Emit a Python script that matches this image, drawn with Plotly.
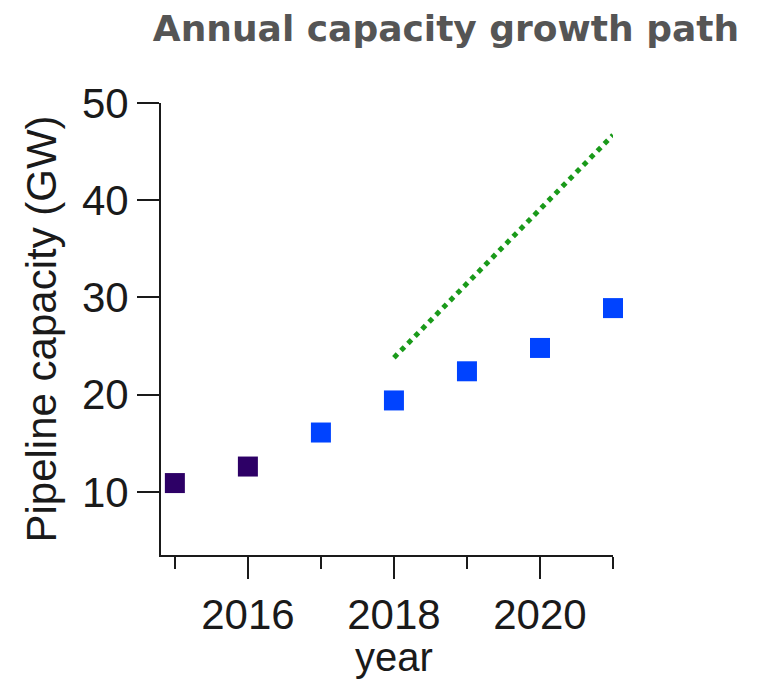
import plotly.graph_objects as go

years = [2015, 2016, 2017, 2018, 2019, 2020, 2021]
capacity = [10.9, 12.6, 16.1, 19.4, 22.4, 24.8, 28.9]
point_colors = ["#2d0066", "#2d0066", "#0043ff", "#0043ff", "#0043ff", "#0043ff", "#0043ff"]
path_years = [2018, 2021]
path_values = [23.8, 46.7]
y_ticks = [10, 20, 30, 40, 50]
x_ticks = [2016, 2018, 2020]

fig = go.Figure()
fig.add_trace(go.Scatter(
    x=path_years, y=path_values, mode="lines",
    line=dict(color="#1a9a1a", width=5, dash="dot"),
    showlegend=False, cliponaxis=False,
))
fig.add_trace(go.Scatter(
    x=years, y=capacity, mode="markers",
    marker=dict(symbol="square", size=20, color=point_colors, line=dict(width=0)),
    showlegend=False, cliponaxis=False,
))

axis_font = dict(family="Liberation Sans, Arial, sans-serif", size=42, color="#1a1a1a")
xtitle_font = dict(family="Liberation Sans, Arial, sans-serif", size=40, color="#1a1a1a")

fig.update_layout(
    width=770, height=680,
    paper_bgcolor="white", plot_bgcolor="white",
    margin=dict(l=153, r=165, t=95, b=133),
    title=dict(
        text="<b>Annual capacity growth path</b>",
        font=dict(family="DejaVu Sans, Verdana, sans-serif", size=36, color="#555555"),
        x=438/770, xref="container", xanchor="center",
        y=1 - 20/680, yref="container", yanchor="middle",
    ),
    xaxis=dict(
        range=[2014.81, 2021],
        tickmode="array", tickvals=x_ticks, ticktext=[str(v) for v in x_ticks],
        ticks="outside", ticklen=22, tickwidth=2, tickcolor="#1a1a1a",
        minor=dict(dtick=1, tick0=2015, ticks="outside", ticklen=12, tickwidth=2, tickcolor="#1a1a1a"),
        showline=True, linecolor="#1a1a1a", linewidth=2,
        showgrid=False, zeroline=False,
        tickfont=axis_font,
    ),
    yaxis=dict(
        range=[3.5, 50],
        tickmode="array", tickvals=y_ticks, ticktext=[str(v) for v in y_ticks],
        ticks="outside", ticklen=22, tickwidth=2, tickcolor="#1a1a1a",
        showline=True, linecolor="#1a1a1a", linewidth=2,
        showgrid=False, zeroline=False,
        tickfont=axis_font,
        title=dict(text="Pipeline capacity (GW)", font=axis_font, standoff=12),
    ),
    annotations=[dict(
        text="year", font=xtitle_font, showarrow=False,
        x=2018, xref="x", xanchor="center",
        y=-0.226, yref="paper", yanchor="middle",
    )],
)

fig.write_html("out.html")
